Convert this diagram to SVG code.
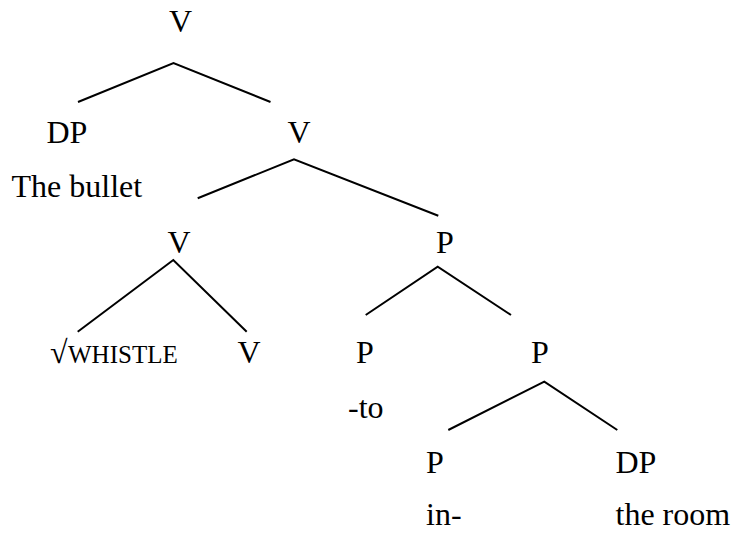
<svg xmlns="http://www.w3.org/2000/svg" width="733" height="534" viewBox="0 0 733 534">
<style>
text{font-family:'Liberation Serif',serif;font-size:32px;fill:#000}
.sc{font-size:25px}
.edge{fill:none;stroke:#000;stroke-width:2}
</style>
<rect width="733" height="534" fill="#fff"/>
<g id="connectors">
<polyline class="edge" points="78,102 173.5,63 270.5,102"/>
<polyline class="edge" points="197.7,198.3 294,159.3 438.3,215.7"/>
<polyline class="edge" points="77.7,331.7 173.3,260 246.7,331.7"/>
<polyline class="edge" points="365.7,315 437.7,266.7 511,315"/>
<polyline class="edge" points="448.3,430 544.3,381.7 617.3,430"/>
</g>
<g id="n-root"><text x="169" y="32">V</text></g>
<g id="n-dp"><text x="46.5" y="143">DP</text><text x="11.5" y="197">The bullet</text></g>
<g id="n-v2"><text x="287.5" y="143">V</text></g>
<g id="n-v3"><text x="167.5" y="253">V</text></g>
<g id="n-root-leaf"><text x="50" y="363">√</text><text class="sc" x="68" y="363">WHISTLE</text></g>
<g id="n-v-leaf"><text x="237.5" y="363">V</text></g>
<g id="n-p1"><text x="436" y="253">P</text></g>
<g id="n-p-to"><text x="356" y="363">P</text><text x="348" y="418">-to</text></g>
<g id="n-p2"><text x="531" y="363">P</text></g>
<g id="n-p-in"><text x="426" y="473">P</text><text x="426" y="525">in-</text></g>
<g id="n-dp2"><text x="615.5" y="473">DP</text><text x="615.5" y="525">the room</text></g>
</svg>
